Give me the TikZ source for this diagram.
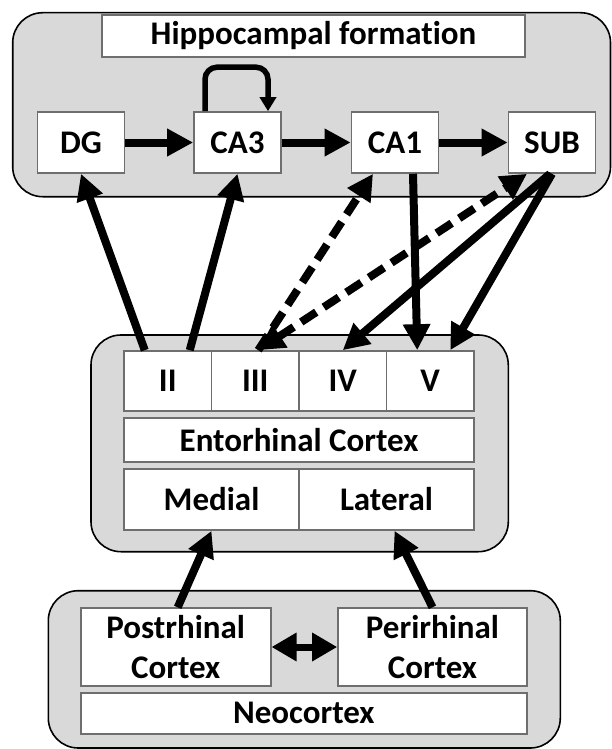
\documentclass[tikz,border=0pt]{standalone}
\usepackage{fontspec}
\setmainfont[Ligatures=NoCommon]{Carlito}
\usetikzlibrary{arrows.meta,calc}
\definecolor{panelgray}{HTML}{D9D9D9}
\definecolor{celledge}{HTML}{6E6E6E}
\begin{document}
\begin{tikzpicture}[x=1pt,y=-1pt,
  panel/.style={draw=black,line width=1.6pt,fill=panelgray,rounded corners=30pt},
  cell/.style={draw=celledge,line width=1.6pt,fill=white,inner sep=0pt,
    font=\fontsize{33}{40}\selectfont\bfseries,align=center},
  conn/.style={line width=8pt,-{Triangle[length=26pt,width=26pt]}},
  dconn/.style={conn,dash pattern=on 18pt off 9pt},
  bothconn/.style={line width=8pt,{Triangle[length=26pt,width=26pt]}-{Triangle[length=26pt,width=26pt]}},
  loopconn/.style={line width=5.5pt,rounded corners=12pt,-{Triangle[length=14pt,width=16pt]}}
]
\useasboundingbox (0,0) rectangle (612,749);
% panels
\path[panel] (12.7,12.7) rectangle (610.5,196.7);
\path[panel] (91,335) rectangle (508.3,551.7);
\path[panel] (48.3,590.7) rectangle (560.3,748);
% hippocampal formation
\node[cell,minimum width=423pt,minimum height=42pt] (title) at (313.5,36) {Hippocampal formation};
\node[cell,minimum width=87pt,minimum height=61pt] (dg) at (81,142.5) {DG};
\node[cell,minimum width=87pt,minimum height=61pt] (ca3) at (237.5,142.5) {CA3};
\node[cell,minimum width=87pt,minimum height=61pt] (ca1) at (395,142.5) {CA1};
\node[cell,minimum width=87pt,minimum height=61pt] (sub) at (552,142.5) {SUB};
% entorhinal cortex
\node[cell,minimum width=87.5pt,minimum height=60pt] (ii) at (167.75,381) {II};
\node[cell,minimum width=87.5pt,minimum height=60pt] (iii) at (255.25,381) {III};
\node[cell,minimum width=87.5pt,minimum height=60pt] (iv) at (342.75,381) {IV};
\node[cell,minimum width=87.5pt,minimum height=60pt] (v) at (430.25,381) {V};
\node[cell,minimum width=350pt,minimum height=44pt] (ec) at (299,440) {Entorhinal Cortex};
\node[cell,minimum width=175pt,minimum height=61pt] (medial) at (211.5,499.5) {Medial};
\node[cell,minimum width=175pt,minimum height=61pt] (lateral) at (386.5,499.5) {Lateral};
% neocortex
\node[cell,minimum width=190pt,minimum height=77.7pt] (post) at (175.7,647) {Postrhinal\\Cortex};
\node[cell,minimum width=189pt,minimum height=77.7pt] (peri) at (432.5,647) {Perirhinal\\Cortex};
\node[cell,minimum width=446.3pt,minimum height=41.3pt] (neo) at (303.85,713.35) {Neocortex};
% hippocampal connections
\draw[conn] (dg) -- (ca3);
\draw[conn] (ca3) -- (ca1);
\draw[conn] (ca1) -- (sub);
\draw[loopconn] ([xshift=-32.5pt]ca3.north) -- ++(0,-44) -| ([xshift=30.5pt]ca3.north);
% EC <-> hippocampus
\draw[conn] ([xshift=-23pt]ii.north) -- (dg.south);
\draw[conn] ([xshift=22pt]ii.north) -- (ca3.south);
\draw[dconn] ([xshift=3pt]iii.north) -- ([xshift=-22pt]ca1.south);
\draw[bothconn,dash pattern=on 18pt off 9pt] ([xshift=3pt]iii.north) -- ([xshift=-25pt]sub.south);
\draw[conn] ([xshift=18pt]ca1.south) -- ([xshift=-13pt]v.north);
\draw[conn] ([xshift=-2pt]sub.south) -- (iv.north);
\draw[conn] (sub.south) -- ([xshift=20pt]v.north);
% neocortex -> EC
\draw[conn] ([xshift=2pt]post.north) -- (medial.south);
\draw[conn] (peri.north) -- ([xshift=8pt]lateral.south);
\draw[line width=7pt,{Triangle[length=25pt,width=27pt]}-{Triangle[length=25pt,width=27pt]}] (post.east) -- (peri.west);
\end{tikzpicture}
\end{document}
